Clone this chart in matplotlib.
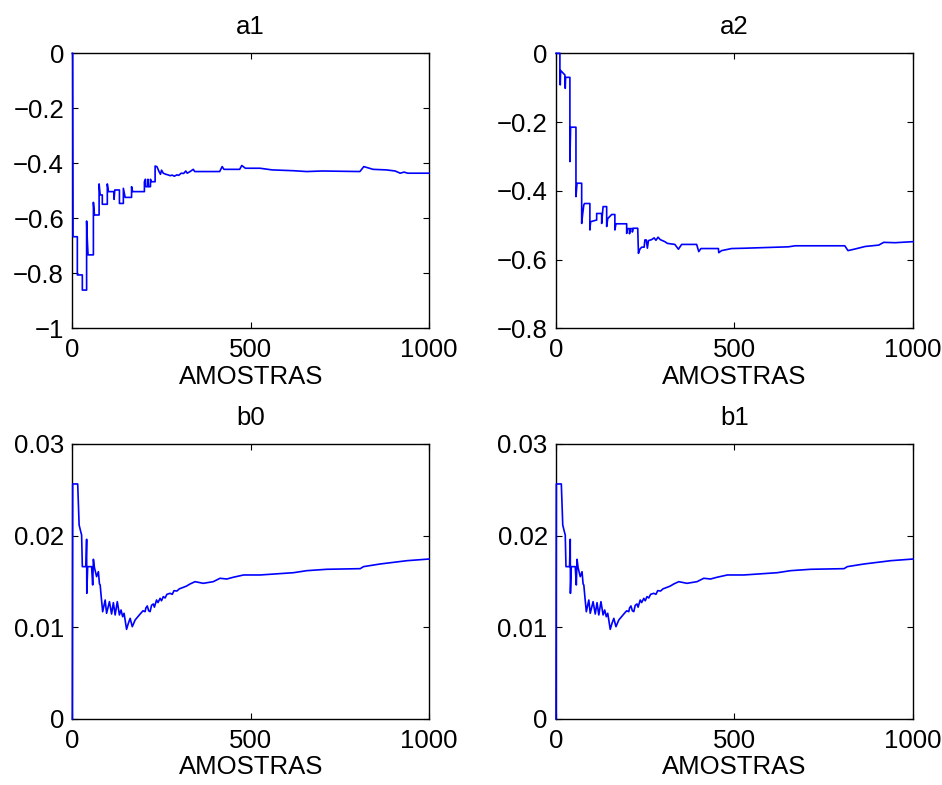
import matplotlib
matplotlib.use('Agg')
from matplotlib import pyplot as plt

plt.rcParams['font.family'] = ['Liberation Sans', 'DejaVu Sans']
plt.rcParams['font.size'] = 18

# a1 - estimativa do parametro (amostra, valor)
a1_x = [0, 1, 2, 14, 14, 28, 28, 40, 40, 42, 44, 59, 59, 62, 75, 75, 78, 84, 84, 98,
        98, 101, 117, 117, 119, 132, 132, 143, 143, 148, 166, 166, 169, 202, 202, 205,
        206, 212, 212, 214, 219, 219, 221, 232, 232, 237, 243, 247, 250, 255, 262, 268,
        274, 280, 286, 293, 298, 305, 312, 318, 322, 330, 339, 343, 413, 420, 425, 469,
        475, 485, 526, 560, 620, 657, 700, 806, 817, 843, 880, 905, 919, 930, 940, 1000]
a1_y = [0, 0, -0.667, -0.667, -0.806, -0.806, -0.861, -0.861, -0.61, -0.68, -0.733,
        -0.733, -0.542, -0.588, -0.588, -0.475, -0.515, -0.515, -0.549, -0.549, -0.475,
        -0.503, -0.503, -0.531, -0.497, -0.497, -0.546, -0.546, -0.491, -0.524, -0.524,
        -0.485, -0.503, -0.503, -0.467, -0.458, -0.485, -0.485, -0.458, -0.485, -0.485,
        -0.458, -0.467, -0.467, -0.41, -0.412, -0.43, -0.44, -0.425, -0.436, -0.44,
        -0.442, -0.445, -0.443, -0.447, -0.442, -0.444, -0.436, -0.437, -0.428, -0.436,
        -0.43, -0.422, -0.43, -0.43, -0.412, -0.422, -0.422, -0.408, -0.418, -0.418,
        -0.424, -0.427, -0.43, -0.428, -0.43, -0.412, -0.422, -0.424, -0.428, -0.436,
        -0.432, -0.436, -0.436]

# a2
a2_x = [0, 11, 11, 12, 13, 25, 26, 27, 39, 39, 41, 56, 56, 59, 72, 72, 75, 78, 80, 95,
        95, 97, 114, 114, 128, 128, 130, 132, 142, 142, 145, 156, 165, 165, 168, 198,
        198, 201, 206, 206, 208, 214, 214, 216, 229, 231, 235, 240, 247, 249, 253, 256,
        259, 268, 275, 280, 286, 292, 305, 312, 333, 343, 352, 394, 400, 406, 455, 456,
        464, 492, 530, 651, 670, 809, 818, 835, 866, 904, 918, 950, 1000]
a2_y = [0, 0, -0.049, -0.092, -0.05, -0.063, -0.102, -0.07, -0.07, -0.315, -0.215,
        -0.215, -0.417, -0.378, -0.378, -0.495, -0.466, -0.441, -0.437, -0.437, -0.514,
        -0.49, -0.485, -0.466, -0.466, -0.495, -0.47, -0.446, -0.446, -0.504, -0.481,
        -0.469, -0.469, -0.514, -0.496, -0.496, -0.524, -0.51, -0.51, -0.525, -0.51,
        -0.51, -0.52, -0.509, -0.509, -0.582, -0.57, -0.564, -0.564, -0.543, -0.543,
        -0.567, -0.545, -0.542, -0.537, -0.544, -0.535, -0.542, -0.548, -0.553, -0.556,
        -0.57, -0.556, -0.556, -0.577, -0.568, -0.568, -0.58, -0.574, -0.568, -0.567,
        -0.563, -0.56, -0.56, -0.574, -0.57, -0.562, -0.558, -0.55, -0.551, -0.548]

# b0
b0_x = [0, 1, 15, 19, 23.5, 26, 28, 38, 40, 40.5, 43, 54, 57, 59, 62, 68, 73, 76, 78,
        80.5, 85, 92, 96, 104, 110, 115, 120, 126, 132, 136.5, 141, 145, 152, 157, 162,
        168, 176, 190, 198, 204, 206, 210, 214, 218, 222, 227, 230, 236, 240, 246, 250,
        255, 260, 265, 274, 280, 285, 293, 300, 311, 320, 330, 344, 367, 395, 414, 433,
        451, 480, 526, 620, 657, 713, 807, 816, 863, 938, 1000]
b0_y = [0, 0.02564, 0.02564, 0.02116, 0.02044, 0.02007, 0.01662, 0.01662, 0.0196,
        0.01371, 0.01662, 0.01662, 0.01462, 0.01742, 0.0165, 0.01553, 0.01607, 0.01473,
        0.01462, 0.01353, 0.0117, 0.01298, 0.01153, 0.0128, 0.01145, 0.01269, 0.01135,
        0.0128, 0.01135, 0.01189, 0.01116, 0.01153, 0.00978, 0.01044, 0.01098, 0.01007,
        0.0108, 0.01145, 0.0118, 0.01171, 0.0121, 0.01233, 0.0118, 0.01171, 0.0124,
        0.01255, 0.0122, 0.01298, 0.0127, 0.01316, 0.0129, 0.01335, 0.0132, 0.0136,
        0.01371, 0.0136, 0.014, 0.01396, 0.0142, 0.01436, 0.0145, 0.01473, 0.01498,
        0.0148, 0.01498, 0.01535, 0.01527, 0.01546, 0.01571, 0.01571, 0.01596, 0.01618,
        0.01633, 0.0164, 0.01662, 0.01691, 0.01727, 0.01745]

# b1 (igual a b0 no grafico)
b1_x = list(b0_x)
b1_y = list(b0_y)

x_ticks = [0, 500, 1000]
x_labels = ['0', '500', '1000']
a1_ticks = [-1, -0.8, -0.6, -0.4, -0.2, 0]
a1_labels = ['\u22121', '\u22120.8', '\u22120.6', '\u22120.4', '\u22120.2', '0']
a2_ticks = [-0.8, -0.6, -0.4, -0.2, 0]
a2_labels = ['\u22120.8', '\u22120.6', '\u22120.4', '\u22120.2', '0']
b_ticks = [0, 0.01, 0.02, 0.03]
b_labels = ['0', '0.01', '0.02', '0.03']

fig = plt.figure(figsize=(9.42, 7.85), dpi=100)

# posicoes dos 4 graficos
positions = [
    [0.0768, 0.5818, 0.3787, 0.3503],
    [0.5902, 0.5818, 0.3790, 0.3503],
    [0.0768, 0.0841, 0.3787, 0.3503],
    [0.5902, 0.0841, 0.3790, 0.3503],
]
series = [(a1_x, a1_y), (a2_x, a2_y), (b0_x, b0_y), (b1_x, b1_y)]
titles = ['a1', 'a2', 'b0', 'b1']
yticks = [(a1_ticks, a1_labels), (a2_ticks, a2_labels),
          (b_ticks, b_labels), (b_ticks, b_labels)]
ylims = [(-1, 0), (-0.8, 0), (0, 0.03), (0, 0.03)]

for pos, (xs, ys), title, (yt, yl), lim in zip(positions, series, titles, yticks, ylims):
    ax = fig.add_axes(pos)
    ax.plot(xs, ys, color='#0000ff', lw=1.2, clip_on=False, zorder=3)
    ax.set_xlim(0, 1000)
    ax.set_ylim(*lim)
    ax.set_xticks(x_ticks)
    ax.set_xticklabels(x_labels)
    ax.set_yticks(yt)
    ax.set_yticklabels(yl)
    ax.tick_params(direction='in', length=4, width=0.8, top=True, right=True,
                   labelsize=18.5)
    ax.tick_params(axis='x', pad=7)
    ax.tick_params(axis='y', pad=6)
    for sp in ax.spines.values():
        sp.set_linewidth(1.0)
    ax.set_title(title, fontsize=18.5, pad=14)
    ax.set_xlabel('AMOSTRAS', fontsize=18.5, labelpad=2)

plt.savefig('out.png', dpi=100)
